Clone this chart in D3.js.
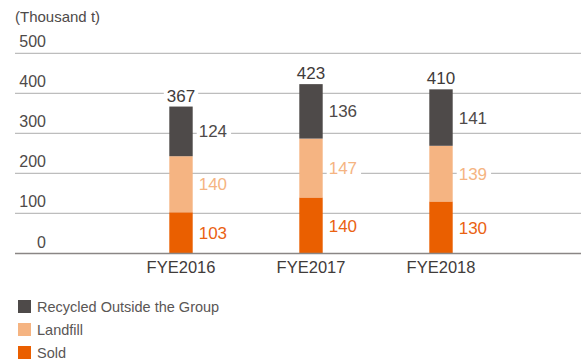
<!DOCTYPE html>
<html>
<head>
<meta charset="utf-8">
<script src="https://cdn.jsdelivr.net/npm/d3@7"></script>
<style>
  body { margin: 0; background: #fff; }
  svg { display: block; font-family: "Liberation Sans", Arial, sans-serif; }
</style>
</head>
<body>
<svg id="chart" width="581" height="363"></svg>
<script>
// Waste disposal by year (thousand tonnes)
const years = ["FYE2016", "FYE2017", "FYE2018"];
const sold = [103, 140, 130];
const landfill = [140, 147, 139];
const recycled = [124, 136, 141];
const totals = [367, 423, 410];
const yTicks = [0, 100, 200, 300, 400, 500];

const seriesNames = ["Sold", "Landfill", "Recycled Outside the Group"];
const seriesColors = ["#ea5f00", "#f5b482", "#4e4a49"];
const labelColors = ["#ea6212", "#f5b482", "#4e4a49"];

const svg = d3.select("#chart");

const y = d3.scaleLinear().domain([0, 500]).range([253.5, 53.3]);
const x = d3.scaleBand().domain(years).range([116, 506]).paddingInner(0.82).paddingOuter(0.41);

// gridlines with tick labels sitting above each line
const grid = svg.append("g");
yTicks.forEach(t => {
  if (t > 0) {
    grid.append("line")
      .attr("x1", 15).attr("x2", 581)
      .attr("y1", y(t)).attr("y2", y(t))
      .attr("stroke", "#bdbdbd").attr("stroke-width", 1.2);
  }
  grid.append("text")
    .attr("x", 46).attr("y", y(t) - 6)
    .attr("text-anchor", "end")
    .attr("font-size", 16)
    .attr("fill", "#4e4a49")
    .text(t);
});

svg.append("text")
  .attr("x", 15).attr("y", 22)
  .attr("font-size", 15)
  .attr("fill", "#4e4a49")
  .text("(Thousand t)");

// stacked bars
const rows = years.map((yr, i) => ({ year: yr, Sold: sold[i], Landfill: landfill[i], "Recycled Outside the Group": recycled[i] }));
const stacked = d3.stack().keys(seriesNames)(rows);

const bars = svg.append("g");
stacked.forEach((layer, li) => {
  layer.forEach((d, i) => {
    bars.append("rect")
      .attr("x", x(years[i]))
      .attr("width", x.bandwidth())
      .attr("y", y(d[1]))
      .attr("height", y(d[0]) - y(d[1]))
      .attr("fill", seriesColors[li]);
  });
});

// segment value labels beside the bars, knocking out the gridlines behind them
stacked.forEach((layer, li) => {
  layer.forEach((d, i) => {
    const cy = y((d[0] + d[1]) / 2);
    const lx = x(years[i]) + x.bandwidth() + 4;
    const txt = String(d[1] - d[0]);
    const g = svg.append("g");
    const bg = g.append("rect").attr("fill", "#fff");
    const t = g.append("text")
      .attr("x", lx + 2).attr("y", cy)
      .attr("dy", "0.36em")
      .attr("font-size", 17)
      .attr("fill", labelColors[li])
      .text(txt);
    const bb = t.node().getBBox();
    bg.attr("x", lx).attr("y", bb.y).attr("width", bb.width + 6).attr("height", bb.height);
  });
});

// totals above each bar
totals.forEach((v, i) => {
  const g = svg.append("g");
  const bg = g.append("rect").attr("fill", "#fff");
  const t = g.append("text")
    .attr("x", x(years[i]) + x.bandwidth() / 2)
    .attr("y", y(v) - 5)
    .attr("text-anchor", "middle")
    .attr("font-size", 17)
    .attr("fill", "#3f3b3a")
    .text(v);
  const bb = t.node().getBBox();
  bg.attr("x", bb.x - 3).attr("y", bb.y).attr("width", bb.width + 6).attr("height", bb.height);
});

// baseline
svg.append("line")
  .attr("x1", 15).attr("x2", 581)
  .attr("y1", y(0)).attr("y2", y(0))
  .attr("stroke", "#8a8685").attr("stroke-width", 1.6);

// category axis labels
const xAxis = d3.axisBottom(x).tickSize(0).tickPadding(7);
const xg = svg.append("g").attr("transform", `translate(0,${y(0) + 1})`).call(xAxis);
xg.select(".domain").remove();
xg.selectAll("text")
  .attr("font-size", 16.5)
  .attr("fill", "#3f3b3a")
  .attr("font-family", "Liberation Sans, Arial, sans-serif");

// legend
const legendOrder = [2, 1, 0];
legendOrder.forEach((si, k) => {
  const ly = 300 + k * 23;
  svg.append("rect")
    .attr("x", 18).attr("y", ly)
    .attr("width", 13).attr("height", 13)
    .attr("fill", seriesColors[si]);
  svg.append("text")
    .attr("x", 37).attr("y", ly + 7)
    .attr("dy", "0.36em")
    .attr("font-size", 14.5)
    .attr("fill", "#5a5655")
    .text(seriesNames[si]);
});
</script>
</body>
</html>
